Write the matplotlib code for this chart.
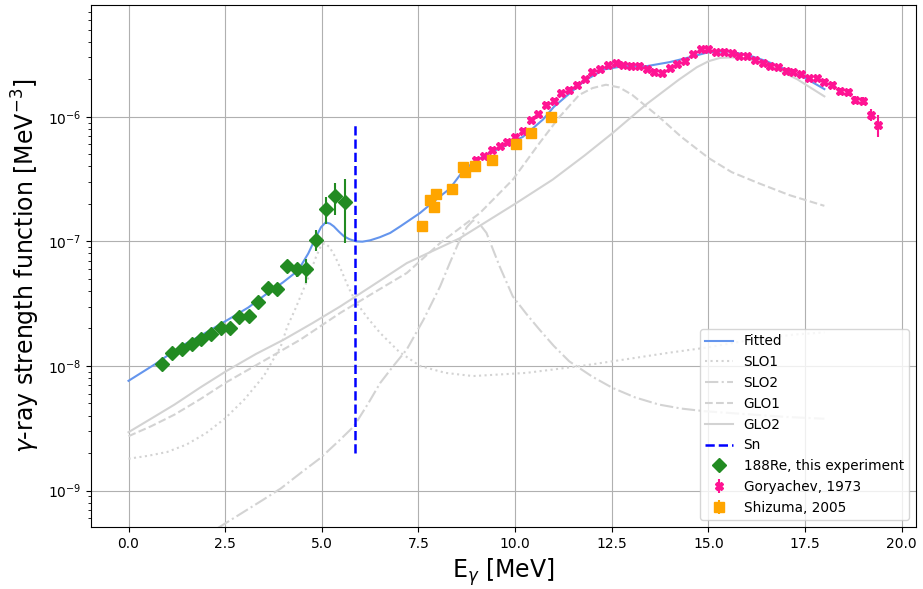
import matplotlib

matplotlib.use("Agg")

import matplotlib.pyplot as plt

# 188Re, this experiment
re_e = [0.87, 1.12, 1.38, 1.63, 1.88, 2.14, 2.38, 2.62, 2.86, 3.11, 3.35,
        3.60, 3.85, 4.10, 4.35, 4.60, 4.85, 5.10, 5.34, 5.59]
re_f = [1.03e-8, 1.26e-8, 1.38e-8, 1.49e-8, 1.65e-8, 1.80e-8, 2.0e-8, 2.0e-8,
        2.48e-8, 2.5e-8, 3.27e-8, 4.23e-8, 4.15e-8, 6.3e-8, 5.96e-8, 5.96e-8,
        1.03e-7, 1.83e-7, 2.30e-7, 2.07e-7]
re_err = [0.05e-8, 0.06e-8, 0.07e-8, 0.07e-8, 0.08e-8, 0.09e-8, 0.1e-8, 0.1e-8,
          0.15e-8, 0.15e-8, 0.2e-8, 0.3e-8, 0.3e-8, 0.7e-8, 0.8e-8, 1.3e-8,
          0.2e-7, 0.45e-7, 0.66e-7, 1.1e-7]

# Goryachev, 1973
gor_e = [9.0, 9.2, 9.4, 9.6, 9.8, 10.0, 10.2, 10.4, 10.6, 10.8, 11.0, 11.2,
         11.4, 11.6, 11.8, 12.0, 12.2, 12.4, 12.6, 12.8, 13.0, 13.2, 13.4,
         13.6, 13.8, 14.0, 14.2, 14.4, 14.6, 14.8, 15.0, 15.2, 15.4, 15.6,
         15.8, 16.0, 16.2, 16.4, 16.6, 16.8, 17.0, 17.2, 17.4, 17.6, 17.8,
         18.0, 18.2, 18.4, 18.6, 18.8, 19.0, 19.2, 19.4]
gor_f = [4.52e-7, 4.81e-7, 5.43e-7, 5.85e-7, 6.3e-7, 6.95e-7, 7.72e-7, 9.46e-7,
         1.05e-6, 1.25e-6, 1.35e-6, 1.55e-6, 1.65e-6, 1.81e-6, 2.0e-6, 2.28e-6,
         2.41e-6, 2.60e-6, 2.70e-6, 2.61e-6, 2.57e-6, 2.58e-6, 2.41e-6, 2.30e-6,
         2.23e-6, 2.46e-6, 2.65e-6, 2.81e-6, 3.18e-6, 3.49e-6, 3.49e-6, 3.30e-6,
         3.34e-6, 3.24e-6, 3.08e-6, 3.05e-6, 2.85e-6, 2.70e-6, 2.57e-6, 2.50e-6,
         2.35e-6, 2.30e-6, 2.20e-6, 2.04e-6, 2.04e-6, 1.92e-6, 1.81e-6, 1.61e-6,
         1.58e-6, 1.36e-6, 1.35e-6, 1.04e-6, 8.6e-7]
gor_err = [0.2e-7, 0.2e-7, 0.25e-7, 0.25e-7, 0.3e-7, 0.3e-7, 0.35e-7, 0.4e-7,
           0.5e-7, 0.6e-7, 0.6e-7, 0.7e-7, 0.7e-7, 0.8e-7, 0.9e-7, 1.0e-7,
           1.0e-7, 1.1e-7, 1.1e-7, 1.1e-7, 1.1e-7, 1.1e-7, 1.0e-7, 1.0e-7,
           1.0e-7, 1.0e-7, 1.1e-7, 1.2e-7, 1.3e-7, 1.4e-7, 1.4e-7, 1.4e-7,
           1.4e-7, 1.4e-7, 1.3e-7, 1.3e-7, 1.2e-7, 1.2e-7, 1.1e-7, 1.1e-7,
           1.0e-7, 1.0e-7, 1.0e-7, 1.0e-7, 1.0e-7, 1.0e-7, 1.0e-7, 1.0e-7,
           1.0e-7, 1.0e-7, 1.0e-7, 1.2e-7, 1.7e-7]

# Shizuma, 2005
shi_e = [7.58, 7.80, 7.89, 7.95, 8.37, 8.66, 8.71, 8.96, 9.40, 10.02, 10.40, 10.93]
shi_f = [1.34e-7, 2.16e-7, 1.90e-7, 2.40e-7, 2.63e-7, 3.95e-7, 3.62e-7, 4.05e-7,
         4.52e-7, 6.0e-7, 7.48e-7, 1.0e-6]
shi_err = [0.05e-7, 0.08e-7, 0.07e-7, 0.09e-7, 0.1e-7, 0.15e-7, 0.14e-7, 0.15e-7,
           0.17e-7, 0.2e-7, 0.25e-7, 0.3e-7]

# model curves
fit_e = [0.0, 0.7, 1.36, 2.0, 2.57, 3.1, 3.6, 4.0, 4.28, 4.45, 4.65, 4.84,
         4.98, 5.10, 5.21, 5.31, 5.44, 5.57, 5.72, 5.89, 6.05, 6.25, 6.5,
         6.77, 7.03, 7.54, 8.06, 8.31, 8.66, 9.0, 9.6, 10.2, 10.72, 11.0,
         11.32, 11.8, 12.3, 12.8, 13.4, 14.0, 14.5, 15.0, 15.5, 16.0, 16.5,
         17.0, 17.5, 18.0]
fit_f = [7.6e-9, 1.04e-8, 1.44e-8, 1.85e-8, 2.35e-8, 2.95e-8, 3.85e-8, 4.7e-8,
         5.5e-8, 6.3e-8, 8.0e-8, 1.07e-7, 1.3e-7, 1.42e-7, 1.39e-7, 1.32e-7,
         1.2e-7, 1.1e-7, 1.04e-7, 1.0e-7, 9.95e-8, 1.02e-7, 1.08e-7, 1.17e-7,
         1.32e-7, 1.69e-7, 2.3e-7, 2.65e-7, 3.7e-7, 4.5e-7, 5.6e-7, 6.9e-7,
         9.5e-7, 1.2e-6, 1.46e-6, 1.95e-6, 2.4e-6, 2.55e-6, 2.55e-6, 2.75e-6,
         3.0e-6, 3.3e-6, 3.35e-6, 3.15e-6, 2.8e-6, 2.4e-6, 2.05e-6, 1.67e-6]

slo1_e = [0.0, 0.5, 1.0, 1.5, 2.0, 2.5, 3.0, 3.5, 3.94, 4.11, 4.3, 4.63,
          4.85, 4.97, 5.07, 5.2, 5.35, 5.5, 5.7, 5.9, 6.2, 6.51, 7.0, 7.54,
          8.2, 8.91, 10.29, 11.66, 12.52, 14.0, 14.92, 16.0, 17.24, 18.0]
slo1_f = [1.8e-9, 1.9e-9, 2.04e-9, 2.34e-9, 2.88e-9, 3.8e-9, 5.4e-9, 8.3e-9,
          1.44e-8, 2.08e-8, 2.8e-8, 4.93e-8, 7.5e-8, 9.1e-8, 9.7e-8, 9.0e-8,
          7.5e-8, 5.9e-8, 4.2e-8, 3.2e-8, 2.4e-8, 1.84e-8, 1.3e-8, 1.0e-8,
          8.8e-9, 8.3e-9, 8.8e-9, 9.96e-9, 1.09e-8, 1.28e-8, 1.40e-8, 1.6e-8,
          1.79e-8, 1.86e-8]

slo2_e = [2.31, 3.0, 3.5, 3.94, 4.5, 4.97, 5.48, 5.83, 6.2, 6.51, 6.85, 7.2,
          7.63, 8.06, 8.31, 8.57, 8.75, 8.91, 9.05, 9.26, 9.6, 9.94, 10.3,
          10.63, 11.0, 11.4, 12.0, 12.52, 13.1, 13.72, 14.3, 14.92, 16.0,
          17.0, 18.0]
slo2_f = [5.0e-10, 6.8e-10, 8.5e-10, 1.04e-9, 1.42e-9, 1.83e-9, 2.57e-9,
          3.28e-9, 5.0e-9, 7.3e-9, 1.0e-8, 1.36e-8, 2.35e-8, 4.35e-8, 6.7e-8,
          1.03e-7, 1.3e-7, 1.47e-7, 1.42e-7, 1.17e-7, 6.3e-8, 3.62e-8, 2.6e-8,
          1.96e-8, 1.45e-8, 1.09e-8, 8.2e-9, 6.67e-9, 5.6e-9, 4.9e-9, 4.55e-9,
          4.33e-9, 4.1e-9, 3.9e-9, 3.77e-9]

glo1_e = [0.0, 0.6, 1.19, 1.85, 2.53, 3.5, 4.45, 5.48, 6.3, 7.2, 8.06, 9.09,
          9.94, 10.63, 11.15, 11.66, 12.0, 12.35, 12.7, 13.03, 13.72, 14.3,
          15.01, 15.6, 16.29, 17.1, 18.0]
glo1_f = [2.73e-9, 3.3e-9, 4.07e-9, 5.4e-9, 7.4e-9, 1.1e-8, 1.63e-8, 2.67e-8,
          3.8e-8, 5.58e-8, 9.7e-8, 1.69e-7, 3.13e-7, 6.15e-7, 1.0e-6, 1.5e-6,
          1.7e-6, 1.81e-6, 1.72e-6, 1.5e-6, 1.0e-6, 6.9e-7, 4.66e-7, 3.6e-7,
          2.94e-7, 2.35e-7, 1.93e-7]

glo2_e = [0.0, 0.6, 1.19, 1.85, 2.53, 3.3, 4.02, 4.75, 5.48, 6.3, 7.2, 8.57,
          10.03, 10.97, 11.8, 12.52, 13.38, 14.23, 14.7, 15.01, 15.3, 15.6,
          16.0, 16.64, 17.3, 18.0]
glo2_f = [2.94e-9, 3.8e-9, 4.9e-9, 6.7e-9, 9.1e-9, 1.25e-8, 1.63e-8, 2.2e-8,
          3.01e-8, 4.4e-8, 6.7e-8, 1.06e-7, 2.03e-7, 3.13e-7, 4.9e-7, 7.4e-7,
          1.25e-6, 1.98e-6, 2.5e-6, 2.8e-6, 2.97e-6, 3.0e-6, 2.92e-6, 2.53e-6,
          2.0e-6, 1.46e-6]

sn = 5.87

fig = plt.figure(figsize=(9.23, 5.89), dpi=100)
ax = fig.add_axes([0.0986, 0.1053, 0.8938, 0.8862])

ax.plot(fit_e, fit_f, color="cornflowerblue", lw=1.5, label="Fitted")
ax.plot(slo1_e, slo1_f, color="lightgray", ls=":", lw=1.5, label="SLO1")
ax.plot(slo2_e, slo2_f, color="lightgray", ls="-.", lw=1.5, label="SLO2")
ax.plot(glo1_e, glo1_f, color="lightgray", ls="--", lw=1.5, label="GLO1")
ax.plot(glo2_e, glo2_f, color="lightgray", ls="-", lw=1.5, label="GLO2")
ax.plot([sn, sn], [2e-9, 8.7e-7], color="blue", ls="--", lw=1.8, label="Sn")

ax.errorbar(re_e, re_f, yerr=re_err, fmt="D", color="forestgreen", ms=7,
            elinewidth=1.5, label="188Re, this experiment")
ax.errorbar(gor_e, gor_f, yerr=gor_err, fmt="X", color="deeppink", ms=6,
            elinewidth=1.5, label="Goryachev, 1973")
ax.errorbar(shi_e, shi_f, yerr=shi_err, fmt="s", color="orange", ms=6.5,
            elinewidth=1.5, label="Shizuma, 2005")

ax.set_yscale("log")
ax.set_ylim(5.1e-10, 7.9e-6)
ax.grid(True)
ax.set_xlabel(r"E$_\gamma$ [MeV]", fontsize=17)
ax.set_ylabel(r"$\gamma$-ray strength function [MeV$^{-3}$]", fontsize=17)
ax.legend(loc="lower right", fontsize=9.8)

fig.savefig("out.png", dpi=100)
